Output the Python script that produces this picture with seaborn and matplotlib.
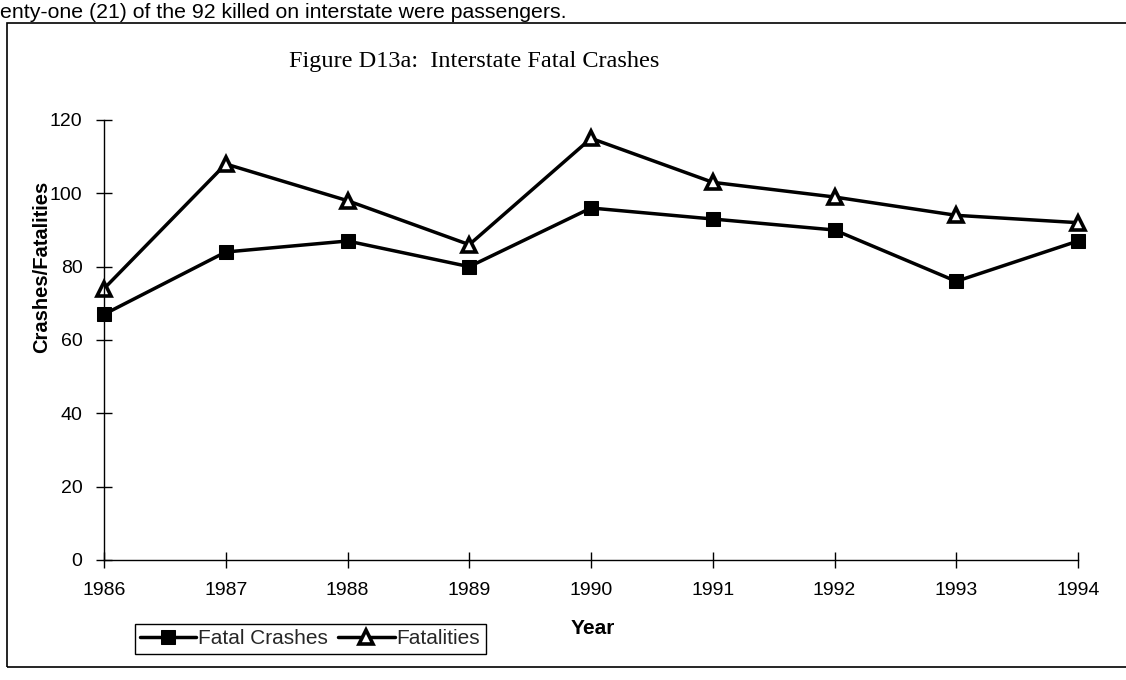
import matplotlib
matplotlib.use("Agg")
import matplotlib.pyplot as plt
import seaborn as sns
import pandas as pd
from matplotlib.patches import Rectangle

# Interstate fatal crashes and fatalities by year
years = [1986, 1987, 1988, 1989, 1990, 1991, 1992, 1993, 1994]
fatal_crashes = [67, 84, 87, 80, 96, 93, 90, 76, 87]
fatalities = [74, 108, 98, 86, 115, 103, 99, 94, 92]
y_ticks = [0, 20, 40, 60, 80, 100, 120]

sns.set_theme(style="white")
plt.rcParams["font.family"] = ["Liberation Sans", "DejaVu Sans"]

W, H = 1126, 680
fig = plt.figure(figsize=(W / 100, H / 100), dpi=100)
fig.patch.set_facecolor("white")


def fx(px):
    return px / W


def fy(py):
    return 1 - py / H


ax = fig.add_axes([fx(104), fy(560), fx(1078) - fx(104), 440 / H])

df = pd.DataFrame({"Year": years,
                   "Fatal Crashes": fatal_crashes,
                   "Fatalities": fatalities})

sns.lineplot(data=df, x="Year", y="Fatal Crashes", ax=ax, color="black",
             lw=2.5, marker="s", ms=9.5, mfc="black", mec="black",
             label="Fatal Crashes", legend=False)
sns.lineplot(data=df, x="Year", y="Fatalities", ax=ax, color="black",
             lw=2.5, marker="^", ms=10.5, mfc="white", mec="black", mew=2.6,
             label="Fatalities", legend=False)
for line in ax.lines:
    line.set_clip_on(False)

ax.set_xlim(years[0], years[-1])
ax.set_ylim(y_ticks[0], y_ticks[-1])
ax.set_xticks(years)
ax.set_xticklabels([str(y) for y in years])
ax.set_yticks(y_ticks)
ax.set_xlabel("")
ax.set_ylabel("")
ax.tick_params(axis="both", which="major", bottom=True, left=True,
               direction="inout", length=11, width=1,
               color="black", labelcolor="black", labelsize=14)
ax.tick_params(axis="x", pad=10)
ax.tick_params(axis="y", pad=10)
for side in ("top", "right"):
    ax.spines[side].set_visible(False)
for side in ("left", "bottom"):
    ax.spines[side].set_color("black")
    ax.spines[side].set_linewidth(1.0)
ax.set_facecolor("white")

# Axis titles
fig.text(fx(42), fy(267), "Crashes/Fatalities", rotation=90, ha="center",
         va="center", fontsize=14.5, fontweight="bold", color="black")
fig.text(fx(593), fy(629), "Year", ha="center", va="center",
         fontsize=15, fontweight="bold", color="black")

# Chart title
fig.text(fx(474), fy(62), "Figure D13a:  Interstate Fatal Crashes",
         ha="center", va="center", fontsize=17.5, color="black",
         family=["Liberation Serif", "DejaVu Serif"])

# Running text above the chart frame
fig.text(fx(0), fy(12), "enty-one (21) of the 92 killed on interstate were passengers.",
         ha="left", va="center", fontsize=15.3, color="black")

# Chart frame
fig.add_artist(Rectangle((fx(7), fy(667)), 1.1, fy(23) - fy(667),
                         transform=fig.transFigure, fill=False,
                         edgecolor="black", linewidth=1.2))

handles, labels = ax.get_legend_handles_labels()
leg = fig.legend(handles, labels, loc="center",
                 bbox_to_anchor=(fx(310), fy(639)), ncol=2, frameon=True,
                 fancybox=False, edgecolor="black", framealpha=1,
                 fontsize=15, handlelength=2.7, handletextpad=0.1,
                 columnspacing=0.5, borderpad=0.25, borderaxespad=0)
leg.get_frame().set_linewidth(1.0)

fig.savefig("out.png", dpi=100, facecolor="white")
